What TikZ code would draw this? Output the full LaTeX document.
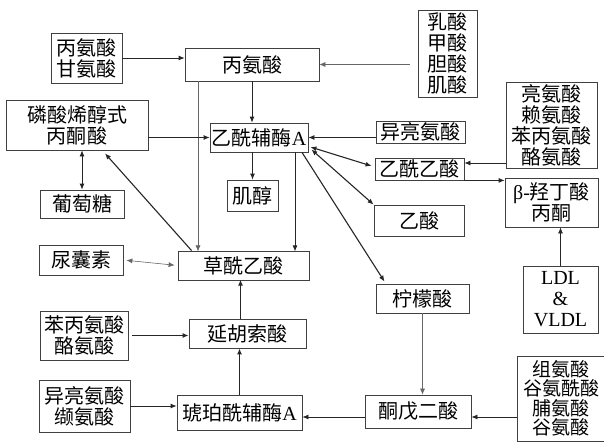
\documentclass[tikz,border=0pt]{standalone}
\usepackage{fontspec}
\setmainfont{Noto Sans CJK SC}
\newfontfamily\latin{Liberation Serif}
\usetikzlibrary{arrows.meta}
\tikzset{
  box/.style={draw=black!75, line width=0.8pt, inner sep=0pt, align=center,
    font=\fontsize{20}{21}\selectfont},
  arr/.style={->, line width=0.8pt, draw=black!85},
  arrb/.style={arr, line width=1.1pt},
  arrt/.style={arr, line width=0.6pt, draw=black!60},
}
\begin{document}
\begin{tikzpicture}[x=1pt, y=-1pt, >={Latex[length=6pt,width=5pt]}]
  \useasboundingbox (0,0) rectangle (604,441);
  % boxes
  \node[box, minimum width=71, minimum height=50] (gly) at (86.5,58) {丙氨酸\\甘氨酸};
  \node[box, minimum width=134, minimum height=33] (ala) at (252,64.5) {丙氨酸};
  \node[box, minimum width=59, minimum height=87] (lac) at (447.5,53.5) {乳酸\\甲酸\\胆酸\\肌酸};
  \node[box, minimum width=142, minimum height=50] (pep) at (77,125) {磷酸烯醇式\\丙酮酸};
  \node[box, minimum width=98, minimum height=29] (acoa) at (259,137.5) {乙酰辅酶{\latin A}};
  \node[box, minimum width=89, minimum height=22] (ile) at (420.5,132) {异亮氨酸};
  \node[box, minimum width=91, minimum height=86] (leu) at (551.5,125) {亮氨酸\\赖氨酸\\苯丙氨酸\\酪氨酸};
  \node[box, minimum width=89, minimum height=22] (aca) at (419.5,169) {乙酰乙酸};
  \node[box, minimum width=93, minimum height=49] (bhb) at (551.5,202.5) {{\latin β-}羟丁酸\\丙酮};
  \node[box, minimum width=90, minimum height=31] (ace) at (419,220.5) {乙酸};
  \node[box, minimum width=51, minimum height=31] (ino) at (252.5,195.5) {肌醇};
  \node[box, minimum width=84, minimum height=28] (glu) at (82,204) {葡萄糖};
  \node[box, minimum width=84, minimum height=30] (all) at (81,260) {尿囊素};
  \node[box, minimum width=131, minimum height=29] (oaa) at (243.5,265.5) {草酰乙酸};
  \node[box, minimum width=93, minimum height=29] (cit) at (422.5,298.5) {柠檬酸};
  \node[box, minimum width=75, minimum height=67, font=\latin\fontsize{20}{21}\selectfont] (ldl) at (560.5,299.5) {LDL\\\&\\VLDL};
  \node[box, minimum width=88, minimum height=49] (phe) at (84,335.5) {苯丙氨酸\\酪氨酸};
  \node[box, minimum width=117, minimum height=29] (fum) at (247.5,333.5) {延胡索酸};
  \node[box, minimum width=91, minimum height=52] (val) at (84.5,406) {异亮氨酸\\缬氨酸};
  \node[box, minimum width=125, minimum height=35] (scoa) at (239.5,412.5) {琥珀酰辅酶{\latin A}};
  \node[box, minimum width=106, minimum height=33] (akg) at (418,411.5) {酮戊二酸};
  \node[box, minimum width=88, minimum height=85, font=\fontsize{19}{19.5}\selectfont] (his) at (561,398.5) {组氨酸\\谷氨酰酸\\脯氨酸\\谷氨酸};
  % arrows
  \draw[arr] (gly.east) -- (gly.east -| ala.west);
  \draw[arrt] ([xshift=-8pt]lac.west |- ala.east) -- (ala.east);
  \draw[arr] (ala.south) -- (ala.south |- acoa.north);
  \draw[arrt] ([xshift=-54pt]ala.south) -- ++(0,170);
  \draw[arr] (acoa.west -| pep.east) -- (acoa.west);
  \draw[arr, <->] (pep.south -| glu.north) -- (glu.north);
  \draw[arrb] ([xshift=14pt]oaa.north west) -- ([xshift=28pt,yshift=-3pt]pep.south);
  \draw[arrt, <->, shorten <=3pt, shorten >=3pt] (all.east) -- (oaa.west);
  \draw[arr] (ino.north |- acoa.south) -- (ino.north);
  \draw[arr] ([xshift=36pt]acoa.south) -- ++(0,99);
  \draw[arr] (ile.west |- acoa.east) -- (acoa.east);
  \draw[arrb, <->] ([xshift=2pt,yshift=-9.5pt]acoa.east) -- ([xshift=-3pt,yshift=3pt]aca.west);
  \draw[arrb, <->] ([xshift=3pt,yshift=-12pt]acoa.east) -- (ace.north west);
  \draw[arrb] ([xshift=43pt]acoa.south) -- ([xshift=-38pt,yshift=2pt]cit.north);
  \draw[arr, <-] ([yshift=6pt]aca.east) -- ++(42,0);
  \draw[arr] (aca.south east) -- (aca.south east -| bhb.west);
  \draw[arr] (ldl.north) -- (ldl.north |- bhb.south);
  \draw[arrt] (cit.south) -- (cit.south |- akg.north);
  \draw[arr, <-] ([yshift=-5.5pt]akg.east) -- ++(46,0);
  \draw[arr] ([yshift=-5.5pt]akg.west) -- ([yshift=-4.5pt]scoa.east);
  \draw[arr] (val.east) -- (val.east -| scoa.west);
  \draw[arrb] (scoa.north) -- (scoa.north |- fum.south);
  \draw[arrb, shorten <=4pt] (phe.east) -- (phe.east -| fum.west);
  \draw[arrb] ([xshift=-7pt]fum.north) -- ++(0,-39);
\end{tikzpicture}
\end{document}
